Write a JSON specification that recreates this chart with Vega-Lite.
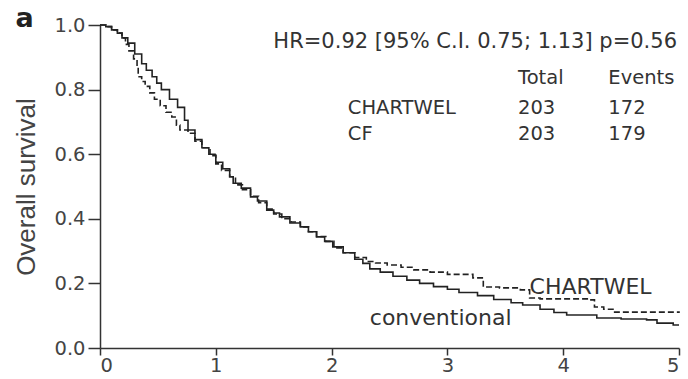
{
  "$schema": "https://vega.github.io/schema/vega-lite/v6.json",
  "width": 579,
  "height": 323,
  "autosize": {"type": "none"},
  "padding": {"left": 100, "top": 25, "right": 9, "bottom": 31},
  "background": "white",
  "config": {
    "view": {"stroke": null},
    "font": "DejaVu Sans",
    "axis": {
      "domainColor": "#333",
      "tickColor": "#333",
      "labelColor": "#444",
      "titleColor": "#444",
      "labelFont": "DejaVu Sans",
      "titleFont": "Liberation Sans",
      "labelFontSize": 19.5,
      "domainWidth": 1.5,
      "tickWidth": 1.5,
      "grid": false
    }
  },
  "datasets": {
    "curves": [
      {"t": 0, "s": 1.0, "arm": "CHARTWEL"},
      {"t": 0.05, "s": 0.995, "arm": "CHARTWEL"},
      {"t": 0.1, "s": 0.985, "arm": "CHARTWEL"},
      {"t": 0.15, "s": 0.975, "arm": "CHARTWEL"},
      {"t": 0.19, "s": 0.96, "arm": "CHARTWEL"},
      {"t": 0.22, "s": 0.94, "arm": "CHARTWEL"},
      {"t": 0.25, "s": 0.92, "arm": "CHARTWEL"},
      {"t": 0.29, "s": 0.895, "arm": "CHARTWEL"},
      {"t": 0.32, "s": 0.87, "arm": "CHARTWEL"},
      {"t": 0.33, "s": 0.84, "arm": "CHARTWEL"},
      {"t": 0.36, "s": 0.825, "arm": "CHARTWEL"},
      {"t": 0.39, "s": 0.81, "arm": "CHARTWEL"},
      {"t": 0.43, "s": 0.79, "arm": "CHARTWEL"},
      {"t": 0.47, "s": 0.77, "arm": "CHARTWEL"},
      {"t": 0.52, "s": 0.75, "arm": "CHARTWEL"},
      {"t": 0.57, "s": 0.73, "arm": "CHARTWEL"},
      {"t": 0.62, "s": 0.715, "arm": "CHARTWEL"},
      {"t": 0.66, "s": 0.69, "arm": "CHARTWEL"},
      {"t": 0.69, "s": 0.675, "arm": "CHARTWEL"},
      {"t": 0.76, "s": 0.665, "arm": "CHARTWEL"},
      {"t": 0.82, "s": 0.64, "arm": "CHARTWEL"},
      {"t": 0.88, "s": 0.62, "arm": "CHARTWEL"},
      {"t": 0.95, "s": 0.595, "arm": "CHARTWEL"},
      {"t": 1.0, "s": 0.57, "arm": "CHARTWEL"},
      {"t": 1.05, "s": 0.55, "arm": "CHARTWEL"},
      {"t": 1.12, "s": 0.53, "arm": "CHARTWEL"},
      {"t": 1.17, "s": 0.505, "arm": "CHARTWEL"},
      {"t": 1.23, "s": 0.49, "arm": "CHARTWEL"},
      {"t": 1.3, "s": 0.47, "arm": "CHARTWEL"},
      {"t": 1.37, "s": 0.45, "arm": "CHARTWEL"},
      {"t": 1.44, "s": 0.43, "arm": "CHARTWEL"},
      {"t": 1.5, "s": 0.415, "arm": "CHARTWEL"},
      {"t": 1.57, "s": 0.4, "arm": "CHARTWEL"},
      {"t": 1.65, "s": 0.39, "arm": "CHARTWEL"},
      {"t": 1.73, "s": 0.375, "arm": "CHARTWEL"},
      {"t": 1.8, "s": 0.36, "arm": "CHARTWEL"},
      {"t": 1.87, "s": 0.345, "arm": "CHARTWEL"},
      {"t": 1.95, "s": 0.33, "arm": "CHARTWEL"},
      {"t": 2.02, "s": 0.31, "arm": "CHARTWEL"},
      {"t": 2.1, "s": 0.295, "arm": "CHARTWEL"},
      {"t": 2.2, "s": 0.28, "arm": "CHARTWEL"},
      {"t": 2.3, "s": 0.268, "arm": "CHARTWEL"},
      {"t": 2.38, "s": 0.263, "arm": "CHARTWEL"},
      {"t": 2.48, "s": 0.257, "arm": "CHARTWEL"},
      {"t": 2.6, "s": 0.25, "arm": "CHARTWEL"},
      {"t": 2.71, "s": 0.242, "arm": "CHARTWEL"},
      {"t": 2.85, "s": 0.235, "arm": "CHARTWEL"},
      {"t": 3.0, "s": 0.228, "arm": "CHARTWEL"},
      {"t": 3.22, "s": 0.217, "arm": "CHARTWEL"},
      {"t": 3.31, "s": 0.189, "arm": "CHARTWEL"},
      {"t": 3.45, "s": 0.186, "arm": "CHARTWEL"},
      {"t": 3.63, "s": 0.18, "arm": "CHARTWEL"},
      {"t": 3.71, "s": 0.155, "arm": "CHARTWEL"},
      {"t": 3.8, "s": 0.152, "arm": "CHARTWEL"},
      {"t": 4.23, "s": 0.149, "arm": "CHARTWEL"},
      {"t": 4.27, "s": 0.127, "arm": "CHARTWEL"},
      {"t": 4.35, "s": 0.12, "arm": "CHARTWEL"},
      {"t": 4.43, "s": 0.111, "arm": "CHARTWEL"},
      {"t": 5.0, "s": 0.108, "arm": "CHARTWEL"},
      {"t": 0, "s": 1.0, "arm": "conventional"},
      {"t": 0.05, "s": 0.995, "arm": "conventional"},
      {"t": 0.1, "s": 0.985, "arm": "conventional"},
      {"t": 0.15, "s": 0.975, "arm": "conventional"},
      {"t": 0.19, "s": 0.96, "arm": "conventional"},
      {"t": 0.24, "s": 0.944, "arm": "conventional"},
      {"t": 0.3, "s": 0.91, "arm": "conventional"},
      {"t": 0.36, "s": 0.88, "arm": "conventional"},
      {"t": 0.4, "s": 0.86, "arm": "conventional"},
      {"t": 0.45, "s": 0.84, "arm": "conventional"},
      {"t": 0.49, "s": 0.82, "arm": "conventional"},
      {"t": 0.53, "s": 0.8, "arm": "conventional"},
      {"t": 0.6, "s": 0.77, "arm": "conventional"},
      {"t": 0.67, "s": 0.745, "arm": "conventional"},
      {"t": 0.73, "s": 0.705, "arm": "conventional"},
      {"t": 0.76, "s": 0.675, "arm": "conventional"},
      {"t": 0.82, "s": 0.645, "arm": "conventional"},
      {"t": 0.88, "s": 0.62, "arm": "conventional"},
      {"t": 0.94, "s": 0.6, "arm": "conventional"},
      {"t": 1.0, "s": 0.575, "arm": "conventional"},
      {"t": 1.06, "s": 0.555, "arm": "conventional"},
      {"t": 1.12, "s": 0.53, "arm": "conventional"},
      {"t": 1.15, "s": 0.51, "arm": "conventional"},
      {"t": 1.22, "s": 0.495, "arm": "conventional"},
      {"t": 1.3, "s": 0.468, "arm": "conventional"},
      {"t": 1.36, "s": 0.455, "arm": "conventional"},
      {"t": 1.44, "s": 0.427, "arm": "conventional"},
      {"t": 1.5, "s": 0.418, "arm": "conventional"},
      {"t": 1.55, "s": 0.406, "arm": "conventional"},
      {"t": 1.64, "s": 0.387, "arm": "conventional"},
      {"t": 1.73, "s": 0.375, "arm": "conventional"},
      {"t": 1.8, "s": 0.36, "arm": "conventional"},
      {"t": 1.87, "s": 0.344, "arm": "conventional"},
      {"t": 1.94, "s": 0.33, "arm": "conventional"},
      {"t": 2.01, "s": 0.313, "arm": "conventional"},
      {"t": 2.1, "s": 0.295, "arm": "conventional"},
      {"t": 2.2, "s": 0.275, "arm": "conventional"},
      {"t": 2.27, "s": 0.262, "arm": "conventional"},
      {"t": 2.33, "s": 0.245, "arm": "conventional"},
      {"t": 2.42, "s": 0.235, "arm": "conventional"},
      {"t": 2.53, "s": 0.222, "arm": "conventional"},
      {"t": 2.65, "s": 0.21, "arm": "conventional"},
      {"t": 2.76, "s": 0.2, "arm": "conventional"},
      {"t": 2.88, "s": 0.19, "arm": "conventional"},
      {"t": 3.0, "s": 0.182, "arm": "conventional"},
      {"t": 3.1, "s": 0.172, "arm": "conventional"},
      {"t": 3.26, "s": 0.162, "arm": "conventional"},
      {"t": 3.4, "s": 0.15, "arm": "conventional"},
      {"t": 3.55, "s": 0.14, "arm": "conventional"},
      {"t": 3.65, "s": 0.133, "arm": "conventional"},
      {"t": 3.8, "s": 0.12, "arm": "conventional"},
      {"t": 3.92, "s": 0.11, "arm": "conventional"},
      {"t": 4.03, "s": 0.102, "arm": "conventional"},
      {"t": 4.29, "s": 0.093, "arm": "conventional"},
      {"t": 4.5, "s": 0.09, "arm": "conventional"},
      {"t": 4.72, "s": 0.087, "arm": "conventional"},
      {"t": 4.81, "s": 0.077, "arm": "conventional"},
      {"t": 4.95, "s": 0.071, "arm": "conventional"},
      {"t": 5.0, "s": 0.071, "arm": "conventional"}
    ],
    "header": [
      {"t": 3.24, "s": 0.947, "label": "HR=0.92 [95% C.I. 0.75; 1.13] p=0.56"}
    ],
    "table": [
      {"t": 3.61, "s": 0.836, "label": "Total"},
      {"t": 4.39, "s": 0.836, "label": "Events"},
      {"t": 2.14, "s": 0.743, "label": "CHARTWEL"},
      {"t": 3.61, "s": 0.743, "label": "203"},
      {"t": 4.39, "s": 0.743, "label": "172"},
      {"t": 2.14, "s": 0.663, "label": "CF"},
      {"t": 3.61, "s": 0.663, "label": "203"},
      {"t": 4.39, "s": 0.663, "label": "179"}
    ],
    "curvelabels": [
      {"t": 3.71, "s": 0.189, "label": "CHARTWEL"},
      {"t": 2.33, "s": 0.093, "label": "conventional"}
    ],
    "panel": [
      {"t": -0.73, "s": 1.02, "label": "a"}
    ]
  },
  "layer": [
    {
      "data": {"name": "curves"},
      "mark": {"type": "line", "interpolate": "step-after", "strokeWidth": 1.6, "color": "#222"},
      "encoding": {
        "x": {
          "field": "t", "type": "quantitative",
          "scale": {"domain": [0, 5], "nice": false, "zero": false},
          "axis": {"values": [0, 1, 2, 3, 4, 5], "title": null, "labelPadding": 1, "tickSize": 7, "format": "d"}
        },
        "y": {
          "field": "s", "type": "quantitative",
          "scale": {"domain": [0, 1], "nice": false},
          "axis": {"values": [0, 0.2, 0.4, 0.6, 0.8, 1.0], "format": ".1f", "title": "Overall survival", "titleFontSize": 26, "titleFontWeight": "normal", "titlePadding": 14, "tickSize": 12, "labelPadding": 3}
        },
        "strokeDash": {
          "field": "arm", "type": "nominal",
          "scale": {"domain": ["CHARTWEL", "conventional"], "range": [[6, 3], [1, 0]]},
          "legend": null
        }
      }
    },
    {
      "data": {"name": "header"},
      "mark": {"type": "text", "align": "center", "baseline": "middle", "fontSize": 21, "color": "#333", "font": "DejaVu Sans"},
      "encoding": {
        "x": {"field": "t", "type": "quantitative"},
        "y": {"field": "s", "type": "quantitative"},
        "text": {"field": "label"}
      }
    },
    {
      "data": {"name": "table"},
      "mark": {"type": "text", "align": "left", "baseline": "middle", "fontSize": 19.5, "color": "#333", "font": "DejaVu Sans"},
      "encoding": {
        "x": {"field": "t", "type": "quantitative"},
        "y": {"field": "s", "type": "quantitative"},
        "text": {"field": "label"}
      }
    },
    {
      "data": {"name": "curvelabels"},
      "mark": {"type": "text", "align": "left", "baseline": "middle", "fontSize": 22, "color": "#333", "font": "DejaVu Sans"},
      "encoding": {
        "x": {"field": "t", "type": "quantitative"},
        "y": {"field": "s", "type": "quantitative"},
        "text": {"field": "label"}
      }
    },
    {
      "data": {"name": "panel"},
      "mark": {"type": "text", "align": "left", "baseline": "middle", "fontSize": 27, "fontWeight": "bold", "color": "#222", "font": "DejaVu Sans"},
      "encoding": {
        "x": {"field": "t", "type": "quantitative"},
        "y": {"field": "s", "type": "quantitative"},
        "text": {"field": "label"}
      }
    }
  ]
}
